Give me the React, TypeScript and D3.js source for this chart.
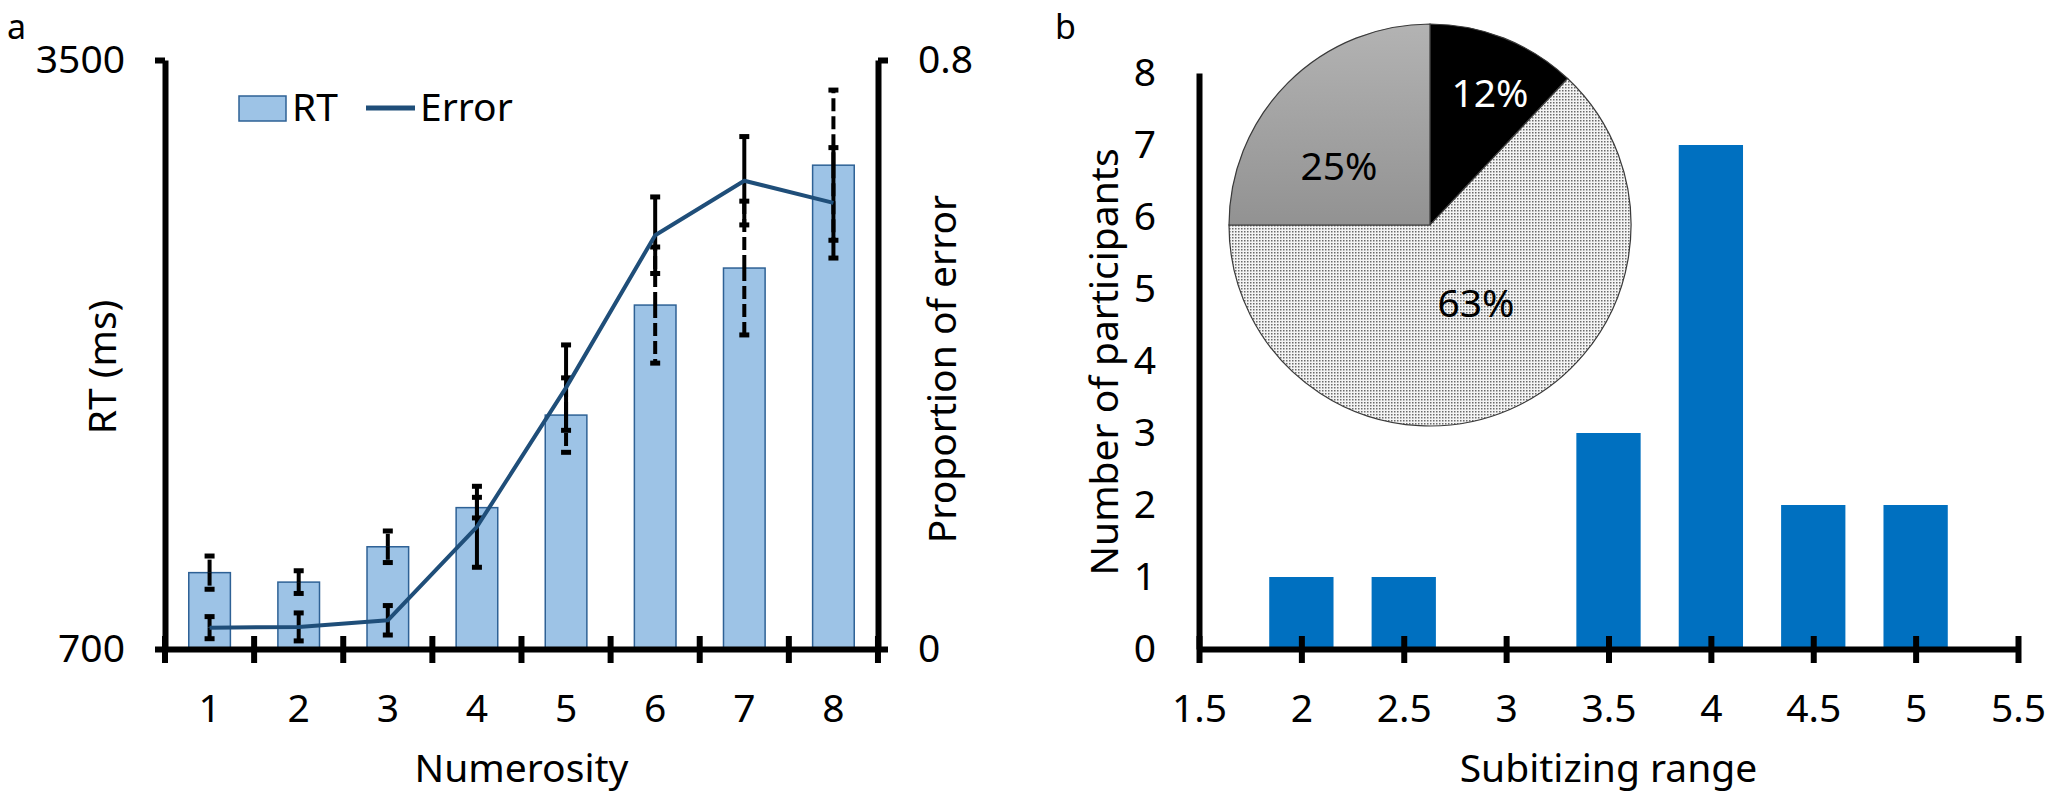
import React, { useEffect, useRef } from 'react';
import * as d3 from 'd3';

// panel a - reaction time (bars) and proportion of error (line) per numerosity
const numerosity = ['1', '2', '3', '4', '5', '6', '7', '8'];
const rtMean = [1063, 1018, 1186, 1372, 1812, 2335, 2511, 3000];
const rtSem = [79, 54, 75, 49, 177, 276, 318, 357];
const errMean = [0.029, 0.03, 0.039, 0.166, 0.355, 0.562, 0.636, 0.606];
const errSem = [0.015, 0.019, 0.02, 0.055, 0.058, 0.052, 0.06, 0.075];
const rtTicks = [700, 3500];
const errTicks = [0, 0.8];

// panel b - subitizing range histogram and inset pie
const subitizingRange = [2, 2.5, 3, 3.5, 4, 4.5, 5];
const participants = [1, 1, 0, 3, 7, 2, 2];
const rangeTicks = [1.5, 2, 2.5, 3, 3.5, 4, 4.5, 5, 5.5];
const countTicks = [0, 1, 2, 3, 4, 5, 6, 7, 8];
const pieShares = [12, 63, 25];
const pieLabels = ['12%', '63%', '25%'];

const FONT = '"Noto Sans", "Open Sans", sans-serif';
const FS = 39;
const AXIS_W = 6;

const App = () => {
  const svgRef = useRef(null);

  useEffect(() => {
    const svg = d3.select(svgRef.current);
    svg.selectAll('*').remove();

    svg.append('rect').attr('width', 2055).attr('height', 796).attr('fill', '#fff');

    const defs = svg.append('defs');
    const dots = defs.append('pattern')
      .attr('id', 'dots')
      .attr('width', 3)
      .attr('height', 3)
      .attr('patternUnits', 'userSpaceOnUse');
    dots.append('rect').attr('width', 3).attr('height', 3).attr('fill', '#f4f4f4');
    dots.append('rect').attr('width', 1.5).attr('height', 1.5).attr('fill', '#6a6a6a');
    const fade = defs.append('linearGradient')
      .attr('id', 'greyFade')
      .attr('x1', 0).attr('y1', 0).attr('x2', 0).attr('y2', 1);
    fade.append('stop').attr('offset', '0%').attr('stop-color', '#b3b3b3');
    fade.append('stop').attr('offset', '100%').attr('stop-color', '#929292');

    const styleAxis = (g) => {
      g.attr('font-family', FONT).attr('font-size', FS);
      g.select('.domain').attr('stroke', '#000').attr('stroke-width', AXIS_W);
      g.selectAll('.tick line').attr('stroke', '#000').attr('stroke-width', AXIS_W);
      g.selectAll('.tick text').attr('fill', '#000');
    };

    // ---------------- panel a ----------------
    const a = { left: 165, right: 878, top: 60, bottom: 649 };

    const x = d3.scaleBand()
      .domain(numerosity)
      .range([a.left, a.right])
      .paddingInner(0.533)
      .paddingOuter(0.2667);
    const yRT = d3.scaleLinear().domain([700, 3500]).range([a.bottom, a.top]);
    const yErr = d3.scaleLinear().domain([0, 0.8]).range([a.bottom, a.top]);

    const rows = numerosity.map((n, i) => ({
      n,
      rt: rtMean[i],
      rtSem: rtSem[i],
      err: errMean[i],
      errSem: errSem[i],
    }));
    const cx = (d) => x(d.n) + x.bandwidth() / 2;

    svg.append('g')
      .selectAll('rect')
      .data(rows)
      .join('rect')
      .attr('x', d => x(d.n))
      .attr('y', d => yRT(d.rt))
      .attr('width', x.bandwidth())
      .attr('height', d => a.bottom - yRT(d.rt))
      .attr('fill', '#9dc3e6')
      .attr('stroke', '#2e6195')
      .attr('stroke-width', 1.5);

    // error bars drawn outward from the mean (like Excel), RT dashed, error solid
    const drawErrorBars = (mid, lo, hi, dash) => {
      const g = svg.append('g').attr('stroke', '#000');
      [hi, lo].forEach((end, k) => {
        g.selectAll(`line.stem${k}`)
          .data(rows)
          .join('line')
          .attr('class', `stem${k}`)
          .attr('x1', cx).attr('x2', cx)
          .attr('y1', mid).attr('y2', end)
          .attr('stroke-width', 4)
          .attr('stroke-dasharray', dash);
        g.selectAll(`line.cap${k}`)
          .data(rows)
          .join('line')
          .attr('class', `cap${k}`)
          .attr('x1', d => cx(d) - 5).attr('x2', d => cx(d) + 5)
          .attr('y1', end).attr('y2', end)
          .attr('stroke-width', 5);
      });
    };
    drawErrorBars(d => yRT(d.rt), d => yRT(d.rt - d.rtSem), d => yRT(d.rt + d.rtSem), '13,5');
    drawErrorBars(d => yErr(d.err), d => yErr(d.err - d.errSem), d => yErr(d.err + d.errSem), null);

    const errLine = d3.line()
      .x(cx)
      .y(d => yErr(d.err));
    svg.append('path')
      .datum(rows)
      .attr('d', errLine)
      .attr('fill', 'none')
      .attr('stroke', '#1f4e79')
      .attr('stroke-width', 4)
      .attr('stroke-linejoin', 'round');

    // axes
    svg.append('g')
      .attr('transform', `translate(${a.left},0)`)
      .call(d3.axisLeft(yRT).tickValues(rtTicks).tickSize(10).tickSizeOuter(0).tickPadding(30).tickFormat(d3.format('d')))
      .call(styleAxis);
    svg.append('g')
      .attr('transform', `translate(${a.right},0)`)
      .call(d3.axisRight(yErr).tickValues(errTicks).tickSize(10).tickSizeOuter(0).tickPadding(30).tickFormat(d3.format('~g')))
      .call(styleAxis);
    const gx = svg.append('g')
      .attr('transform', `translate(0,${a.bottom})`)
      .call(d3.axisBottom(x).tickSize(0).tickSizeOuter(0).tickPadding(45))
      .call(styleAxis);
    gx.selectAll('.tick line').remove();
    gx.selectAll('line.bound')
      .data(d3.range(numerosity.length + 1))
      .join('line')
      .attr('class', 'bound')
      .attr('x1', i => a.left + i * x.step())
      .attr('x2', i => a.left + i * x.step())
      .attr('y1', -13)
      .attr('y2', 14)
      .attr('stroke', '#000')
      .attr('stroke-width', AXIS_W);

    // axis titles and legend
    const text = (str, px, py, opts = {}) => svg.append('text')
      .attr('x', px)
      .attr('y', py)
      .attr('font-family', FONT)
      .attr('font-size', opts.size || FS)
      .attr('fill', opts.fill || '#000')
      .attr('text-anchor', opts.anchor || 'start')
      .attr('transform', opts.rotate ? `rotate(-90,${px},${py})` : null)
      .text(str);

    text('a', 7, 39, { size: 34 });
    text('Numerosity', (a.left + a.right) / 2, 782, { anchor: 'middle' });
    text('RT (ms)', 116, 367, { anchor: 'middle', rotate: true });
    text('Proportion of error', 956, 369, { anchor: 'middle', rotate: true });

    svg.append('rect')
      .attr('x', 239).attr('y', 96)
      .attr('width', 47).attr('height', 25)
      .attr('fill', '#9dc3e6')
      .attr('stroke', '#2e6195')
      .attr('stroke-width', 1.5);
    text('RT', 292, 121);
    svg.append('line')
      .attr('x1', 366).attr('x2', 415)
      .attr('y1', 108).attr('y2', 108)
      .attr('stroke', '#1f4e79')
      .attr('stroke-width', 5);
    text('Error', 420, 121);

    // ---------------- panel b ----------------
    const b = { left: 1199, right: 2018, top: 73, bottom: 649 };
    const xB = d3.scaleLinear().domain([1.5, 5.5]).range([b.left, b.right]);
    const yB = d3.scaleLinear().domain([0, 8]).range([b.bottom, b.top]);
    const halfBar = 0.157;

    svg.append('g')
      .selectAll('rect')
      .data(subitizingRange.map((r, i) => ({ r, n: participants[i] })))
      .join('rect')
      .attr('x', d => xB(d.r - halfBar))
      .attr('y', d => yB(d.n))
      .attr('width', d => xB(d.r + halfBar) - xB(d.r - halfBar))
      .attr('height', d => b.bottom - yB(d.n))
      .attr('fill', '#0070c0');

    svg.append('g')
      .attr('transform', `translate(${b.left},0)`)
      .call(d3.axisLeft(yB).tickValues(countTicks).tickSize(0).tickSizeOuter(0).tickPadding(43))
      .call(styleAxis);
    const gxB = svg.append('g')
      .attr('transform', `translate(0,${b.bottom})`)
      .call(d3.axisBottom(xB).tickValues(rangeTicks).tickSize(14).tickSizeOuter(0).tickPadding(31).tickFormat(d3.format('~g')))
      .call(styleAxis);
    gxB.selectAll('.tick line').attr('y1', -13);

    text('b', 1055, 39, { size: 34 });
    text('Subitizing range', (b.left + b.right) / 2, 782, { anchor: 'middle' });
    text('Number of participants', 1118, 362, { anchor: 'middle', rotate: true });

    // inset pie
    const pieC = { x: 1430, y: 225, r: 201 };
    const pieFill = ['#000', 'url(#dots)', 'url(#greyFade)'];
    const labelFill = ['#fff', '#000', '#000'];
    const labelOffset = [[60, -132], [46, 78], [-91, -59]];
    const arcs = d3.pie().sort(null).value(d => d)(pieShares);
    const arc = d3.arc().innerRadius(0).outerRadius(pieC.r);
    const gp = svg.append('g').attr('transform', `translate(${pieC.x},${pieC.y})`);
    gp.selectAll('path')
      .data(arcs)
      .join('path')
      .attr('d', arc)
      .attr('fill', (d, i) => pieFill[i])
      .attr('stroke', '#3a3a3a')
      .attr('stroke-width', 1.2);
    gp.selectAll('text')
      .data(arcs)
      .join('text')
      .attr('x', (d, i) => labelOffset[i][0])
      .attr('y', (d, i) => labelOffset[i][1])
      .attr('dy', '0.36em')
      .attr('text-anchor', 'middle')
      .attr('font-family', FONT)
      .attr('font-size', FS)
      .attr('fill', (d, i) => labelFill[i])
      .text((d, i) => pieLabels[i]);
  }, []);

  return (
    <svg
      ref={svgRef}
      width={2055}
      height={796}
      style={{ position: 'absolute', left: 0, top: 0, display: 'block' }}
    />
  );
};

export default App;
